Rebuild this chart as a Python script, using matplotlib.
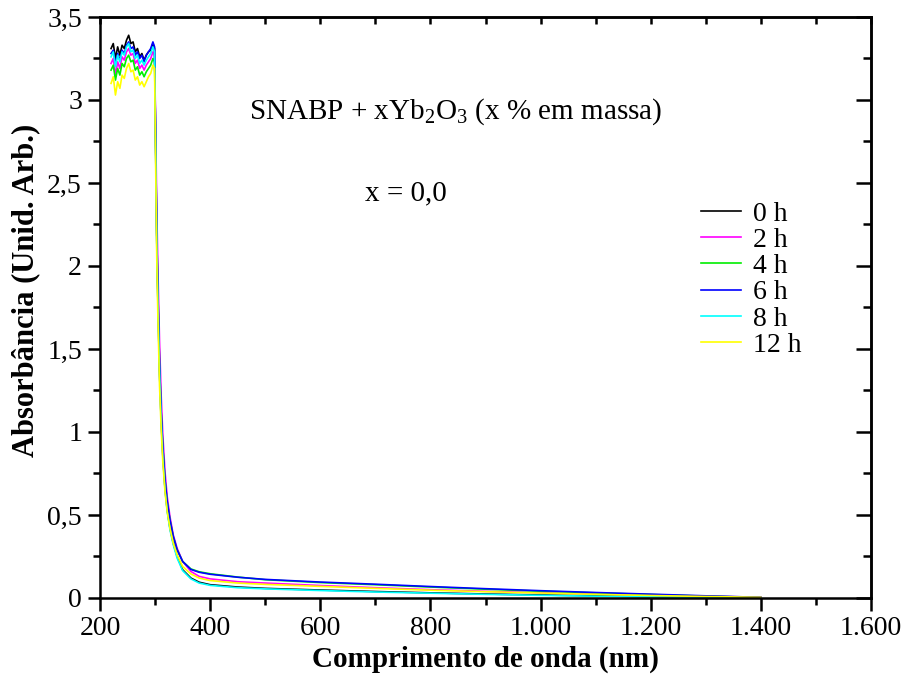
import matplotlib
matplotlib.use("Agg")
import matplotlib.pyplot as plt
from matplotlib.ticker import FuncFormatter, MultipleLocator

plt.rcParams['font.family'] = ['Liberation Serif', 'DejaVu Serif']
plt.rcParams['mathtext.fontset'] = 'custom'
plt.rcParams['mathtext.rm'] = 'Liberation Serif'
plt.rcParams['mathtext.default'] = 'regular'

# comprimento de onda (nm)
wl = [220, 224, 228, 232, 236, 240, 244, 248, 252, 256, 260, 264, 268, 272, 276,
      280, 284, 288, 292, 296, 299,
      301, 303, 305, 308, 311, 314, 318, 322, 327, 333, 340, 350, 365, 380,
      400, 450, 500, 600, 700, 800, 900, 1000, 1100, 1200, 1300, 1400]

a0 = [3.31, 3.34, 3.25, 3.32, 3.27, 3.33, 3.31, 3.36, 3.39, 3.34, 3.35, 3.29, 3.31, 3.26, 3.28,
      3.24, 3.27, 3.29, 3.30, 3.34, 3.31,
      2.70, 2.15, 1.80, 1.36, 1.07, 0.86, 0.66, 0.53, 0.42, 0.33, 0.25, 0.17, 0.12, 0.095,
      0.080, 0.066, 0.058, 0.048, 0.039, 0.031, 0.024, 0.018, 0.013, 0.008, 0.004, 0.001]
a2 = [3.22, 3.25, 3.15, 3.23, 3.19, 3.26, 3.24, 3.29, 3.31, 3.27, 3.28, 3.22, 3.24, 3.19, 3.21,
      3.18, 3.21, 3.23, 3.25, 3.29, 3.27,
      2.85, 2.35, 2.00, 1.55, 1.22, 0.98, 0.76, 0.61, 0.49, 0.38, 0.30, 0.22, 0.16, 0.13,
      0.115, 0.098, 0.090, 0.075, 0.062, 0.050, 0.040, 0.032, 0.024, 0.016, 0.010, 0.005]
a4 = [3.18, 3.21, 3.12, 3.19, 3.15, 3.22, 3.20, 3.25, 3.27, 3.23, 3.24, 3.18, 3.20, 3.15, 3.17,
      3.14, 3.17, 3.19, 3.21, 3.25, 3.23,
      2.75, 2.20, 1.85, 1.42, 1.12, 0.91, 0.71, 0.58, 0.47, 0.37, 0.29, 0.22, 0.175, 0.158,
      0.146, 0.126, 0.110, 0.093, 0.080, 0.066, 0.053, 0.041, 0.031, 0.021, 0.011, 0.003]
a6 = [3.28, 3.30, 3.22, 3.28, 3.24, 3.30, 3.28, 3.33, 3.35, 3.31, 3.32, 3.27, 3.29, 3.25, 3.27,
      3.23, 3.27, 3.29, 3.31, 3.35, 3.32,
      2.75, 2.20, 1.85, 1.42, 1.12, 0.91, 0.71, 0.58, 0.47, 0.37, 0.29, 0.22, 0.172, 0.155,
      0.143, 0.125, 0.112, 0.096, 0.083, 0.069, 0.056, 0.044, 0.033, 0.023, 0.013, 0.004]
a8 = [3.26, 3.29, 3.20, 3.27, 3.23, 3.29, 3.27, 3.32, 3.34, 3.29, 3.30, 3.25, 3.27, 3.22, 3.24,
      3.21, 3.24, 3.26, 3.28, 3.32, 3.29,
      2.68, 2.12, 1.78, 1.35, 1.06, 0.85, 0.65, 0.52, 0.41, 0.32, 0.24, 0.165, 0.115, 0.090,
      0.076, 0.062, 0.055, 0.045, 0.036, 0.029, 0.022, 0.016, 0.011, 0.007, 0.003, 0.000]
a12 = [3.10, 3.14, 3.03, 3.11, 3.07, 3.15, 3.13, 3.19, 3.22, 3.17, 3.18, 3.12, 3.14, 3.09, 3.11,
       3.08, 3.11, 3.14, 3.16, 3.21, 3.19,
       2.60, 2.05, 1.70, 1.28, 1.02, 0.82, 0.64, 0.52, 0.42, 0.33, 0.26, 0.19, 0.145, 0.12,
       0.105, 0.090, 0.082, 0.070, 0.058, 0.047, 0.038, 0.030, 0.022, 0.015, 0.009, 0.004]

series = [a0, a2, a4, a6, a8, a12]
labels = ['0 h', '2 h', '4 h', '6 h', '8 h', '12 h']
colors = ['#000000', '#ff00ff', '#00ee00', '#0000ff', '#00ffff', '#ffff00']


def fmt_num(v, pos):
    if abs(v - round(v)) < 1e-9:
        s = f"{int(round(v)):,}".replace(',', '.')
    else:
        s = f"{v:g}".replace('.', ',')
    return s


fig = plt.figure(figsize=(9.07, 6.91), dpi=100)
ax = fig.add_axes([0.1103, 0.1346, 0.85, 0.8408])

for y, lab, c in zip(series, labels, colors):
    ax.plot(wl, y, color=c, lw=1.2, label=lab)

ax.set_xlim(200, 1600)
ax.set_ylim(0, 3.5)
ax.xaxis.set_major_locator(MultipleLocator(200))
ax.xaxis.set_minor_locator(MultipleLocator(100))
ax.yaxis.set_major_locator(MultipleLocator(0.5))
ax.yaxis.set_minor_locator(MultipleLocator(0.25))
ax.xaxis.set_major_formatter(FuncFormatter(fmt_num))
ax.yaxis.set_major_formatter(FuncFormatter(fmt_num))

for sp in ax.spines.values():
    sp.set_linewidth(1.8)
ax.tick_params(which='major', direction='out', length=9, width=1.8, labelsize=20, pad=4)
ax.tick_params(which='minor', direction='out', length=5, width=1.8)

# ticks inside on top and right
top = ax.secondary_xaxis('top')
top.xaxis.set_major_locator(MultipleLocator(200))
top.xaxis.set_minor_locator(MultipleLocator(100))
top.tick_params(which='both', direction='in', length=5, width=1.8, labeltop=False)
top.spines['top'].set_linewidth(1.8)
right = ax.secondary_yaxis('right')
right.yaxis.set_major_locator(MultipleLocator(0.5))
right.yaxis.set_minor_locator(MultipleLocator(0.25))
right.tick_params(which='major', direction='in', length=11, width=1.8, labelright=False)
right.tick_params(which='minor', direction='in', length=6, width=1.8)
right.spines['right'].set_linewidth(1.8)

ax.set_xlabel('Comprimento de onda (nm)', fontsize=21, fontweight='bold', labelpad=3)
ax.set_ylabel('Absorbância (Unid. Arb.)', fontsize=22, fontweight='bold')
ax.yaxis.set_label_coords(-0.077, 0.53)

ax.text(845, 2.93, r'SNABP + xYb$_2$O$_3$ (x % em massa)', fontsize=21, ha='center', va='center')
ax.text(755, 2.44, 'x = 0,0', fontsize=21, ha='center', va='center')

ax.legend(loc='upper left', bbox_to_anchor=(0.761, 0.707), frameon=False, fontsize=20,
          handlelength=1.44, handletextpad=0.43, labelspacing=0.03, borderpad=0)

fig.savefig('out.png', dpi=100)
